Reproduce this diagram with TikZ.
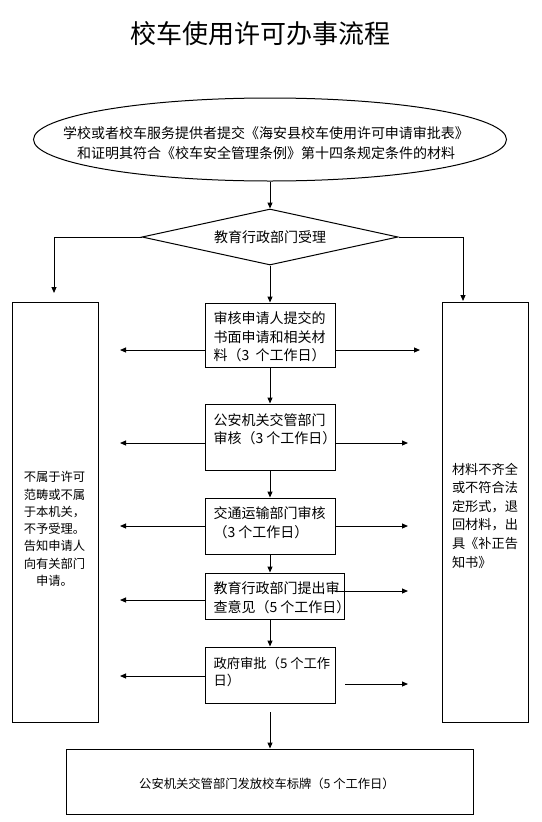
\documentclass[tikz,border=0pt]{standalone}
\usepackage{fontspec}
\setmainfont{Noto Sans CJK SC}
\usetikzlibrary{arrows.meta,shapes.geometric}
\begin{document}
\begin{tikzpicture}[x=1pt,y=-1pt,line width=1pt,
  box/.style={draw,rectangle,inner sep=0pt},
  arr/.style={-{Triangle[length=6pt,width=5pt]}},
  txt/.style={inner sep=0pt,align=left,anchor=north west,font=\fontsize{14}{18.5}\selectfont}]
\useasboundingbox (0,0) rectangle (541,822);
\fill[white] (0,0) rectangle (541,822);

% title
\node[inner sep=0pt,font=\fontsize{26}{26}\selectfont] (title) at (260,34) {校车使用许可办事流程};

% start ellipse
\node[draw,ellipse,minimum width=473pt,minimum height=83pt,inner sep=0pt] (start) at (270,139.5) {};
\node[inner sep=0pt,align=center,font=\fontsize{14}{20}\selectfont] (starttxt) at (266,143)
  {学校或者校车服务提供者提交《海安县校车使用许可申请审批表》\\和证明其符合《校车安全管理条例》第十四条规定条件的材料};

% decision
\node[draw,diamond,aspect=4.57,minimum width=256pt,minimum height=56pt,inner sep=0pt,
  font=\fontsize{14}{14}\selectfont] (dec) at (270,237) {教育行政部门受理};

% middle boxes
\node[box,minimum width=130pt,minimum height=64pt] (b1) at (270,335) {};
\node[box,minimum width=130pt,minimum height=66pt] (b2) at (270,437) {};
\node[box,minimum width=130pt,minimum height=56pt] (b3) at (270,526) {};
\node[box,minimum width=139pt,minimum height=46pt] (b4) at (274.5,596) {};
\node[box,minimum width=130pt,minimum height=56pt] (b5) at (270,675) {};
\node[box,minimum width=407pt,minimum height=65pt] (bot) at (269.5,781.5) {};

\node[txt] (t1) at (213,311.5) {审核申请人提交的\\书面申请和相关材\\料（3\ \ 个工作日）};
\node[txt,font=\fontsize{14}{18}\selectfont] (t2) at (213,413.5) {公安机关交管部门\\审核（3 个工作日）};
\node[txt,font=\fontsize{14}{19}\selectfont] (t3) at (213,506.5) {交通运输部门审核\\（3 个工作日）};
\node[txt,font=\fontsize{14}{19}\selectfont] (t4) at (213,581.5) {教育行政部门提出审\\查意见（5 个工作日）};
\node[txt,font=\fontsize{13.3}{17}\selectfont] (t5) at (213,657) {政府审批（5 个工作\\日）};
\node[inner sep=0pt,font=\fontsize{12.3}{14}\selectfont] (tbot) at (267,784) {公安机关交管部门发放校车标牌（5 个工作日）};

% side boxes
\node[box,minimum width=86pt,minimum height=420pt] (L) at (55,512) {};
\node[box,minimum width=86pt,minimum height=420pt] (R) at (485,512) {};
\node[inner sep=0pt,align=center,font=\fontsize{12.3}{17.3}\selectfont] (tL) at (54.5,529)
  {不属于许可\\范畴或不属\\于本机关，\\不予受理。\\告知申请人\\向有关部门\\申请。};
\node[inner sep=0pt,align=left,font=\fontsize{13.2}{18.6}\selectfont] (tR) at (485,515.5)
  {材料不齐全\\或不符合法\\定形式，退\\回材料，出\\具《补正告\\知书》};

% main flow
\draw[arr] (start.south) -- (dec.north);
\draw[arr] (dec.south) -- (b1.north);
\draw[arr] (b1.south) -- (b2.north);
\draw[arr] (b2.south) -- (b3.north);
\draw[arr] (b3.south) -- (b3.south |- b4.north);
\draw[arr] (b5.north |- b4.south) -- (b5.north);
\coordinate (b5gap) at (270,712);
\draw[arr] (b5gap) -- (b5gap |- bot.north);

% decision branches
\coordinate (lturn) at (54,237);
\coordinate (lend) at (54,293);
\coordinate (rturn) at (463,237);
\coordinate (rend) at (463,301);
\draw[arr] (dec.west) -- (lturn) -- (lend);
\draw[arr] (dec.east) -- (rturn) -- (rend);

% side arrows
\coordinate (b1l) at (120,350); \coordinate (b1r) at (420,350);
\draw[arr] (b1.west |- b1l) -- (b1l);
\draw[arr] (b1.east |- b1r) -- (b1r);
\coordinate (b2l) at (120,443); \coordinate (b2r) at (408,443);
\draw[arr] (b2.west |- b2l) -- (b2l);
\draw[arr] (b2.east |- b2r) -- (b2r);
\coordinate (b3l) at (120,526); \coordinate (b3r) at (408,526);
\draw[arr] (b3.west |- b3l) -- (b3l);
\draw[arr] (b3.east |- b3r) -- (b3r);
\coordinate (b4l) at (120,600); \coordinate (b4s) at (335,591); \coordinate (b4r) at (408,591);
\draw[arr] (b4.west |- b4l) -- (b4l);
\draw[arr] (b4s) -- (b4r);
\coordinate (b5l) at (120,676); \coordinate (b5s) at (345,684); \coordinate (b5r) at (408,684);
\draw[arr] (b5.west |- b5l) -- (b5l);
\draw[arr] (b5s) -- (b5r);
\end{tikzpicture}
\end{document}
